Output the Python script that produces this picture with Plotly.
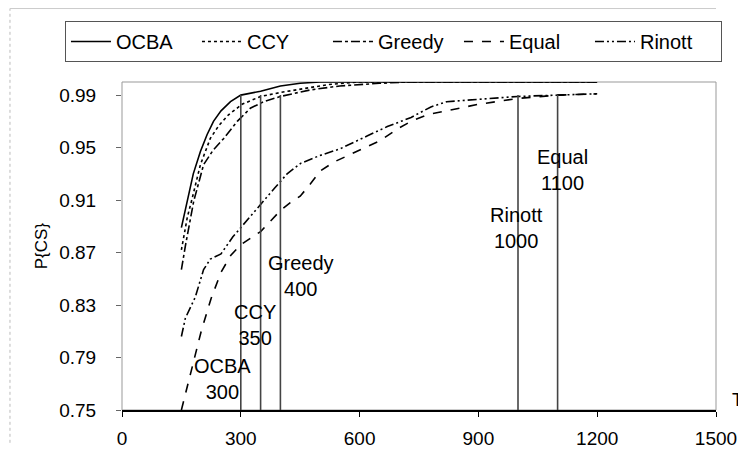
import plotly.graph_objects as go

# ---- data ----
ocba_T = [150, 165, 180, 198, 215, 231, 250, 274, 300, 350, 400, 450, 500, 800, 1200]
ocba_P = [0.889, 0.910, 0.930, 0.947, 0.960, 0.970, 0.978, 0.985, 0.990, 0.993, 0.997, 0.999, 1.0, 1.0, 1.0]

ccy_T = [150, 165, 177, 198, 223, 245, 269, 303, 350, 400, 460, 520, 600, 1200]
ccy_P = [0.872, 0.897, 0.911, 0.937, 0.957, 0.967, 0.975, 0.983, 0.989, 0.992, 0.995, 0.998, 1.0, 1.0]

greedy_T = [150, 160, 181, 206, 230, 257, 291, 324, 358, 400, 476, 550, 650, 720, 1200]
greedy_P = [0.857, 0.875, 0.909, 0.937, 0.948, 0.957, 0.970, 0.980, 0.985, 0.989, 0.994, 0.997, 0.999, 1.0, 1.0]

equal_T = [150, 175, 200, 225, 250, 275, 300, 325, 350, 375, 400, 425, 450, 475, 500, 535, 586, 650, 700, 730, 770, 840, 900, 1000, 1100, 1200]
equal_P = [0.750, 0.780, 0.810, 0.835, 0.855, 0.868, 0.876, 0.881, 0.886, 0.894, 0.902, 0.908, 0.913, 0.922, 0.932, 0.939, 0.946, 0.955, 0.965, 0.970, 0.975, 0.979, 0.983, 0.9875, 0.990, 0.991]

rinott_T = [150, 160, 185, 206, 223, 250, 280, 305, 335, 360, 385, 417, 451, 500, 550, 620, 670, 730, 780, 820, 900, 1000, 1100, 1200]
rinott_P = [0.806, 0.820, 0.836, 0.857, 0.865, 0.869, 0.882, 0.891, 0.901, 0.910, 0.919, 0.930, 0.938, 0.944, 0.949, 0.959, 0.966, 0.973, 0.981, 0.985, 0.987, 0.989, 0.990, 0.991]

mark_T = [300, 350, 400, 1000, 1100]
mark_names = ["OCBA", "CCY", "Greedy", "Rinott", "Equal"]
mark_P_top = 0.99
label_x = [253, 337, 451, 996, 1112]
label_y = [0.7736, 0.815, 0.852, 0.889, 0.933]

y_ticks = [0.75, 0.79, 0.83, 0.87, 0.91, 0.95, 0.99]
x_ticks = [0, 300, 600, 900, 1200, 1500]

FONT = "Liberation Sans, Arial, sans-serif"

fig = go.Figure()

series = [
    ("OCBA", ocba_T, ocba_P, "solid"),
    ("CCY", ccy_T, ccy_P, "dot"),
    ("Greedy", greedy_T, greedy_P, "dashdot"),
    ("Equal", equal_T, equal_P, "dash"),
    ("Rinott", rinott_T, rinott_P, "9px,3px,2px,3px,2px,3px"),
]
for name, t, p, d in series:
    fig.add_trace(go.Scatter(x=t, y=p, mode="lines", name=name,
                             line=dict(color="black", width=1.6, dash=d)))

for t in mark_T:
    fig.add_trace(go.Scatter(x=[t, t], y=[y_ticks[0], mark_P_top], mode="lines",
                             showlegend=False, hoverinfo="skip",
                             line=dict(color="#444", width=1.6)))

for n, t, lx, ly in zip(mark_names, mark_T, label_x, label_y):
    fig.add_annotation(x=lx, y=ly, text=f"{n}<br>{t}", showarrow=False,
                       font=dict(size=20, color="black", family=FONT),
                       align="center")

# y-axis title and x-axis label "T"
fig.add_annotation(xref="paper", yref="paper", x=-0.136, y=0.5, text="P{CS}",
                   textangle=-90, showarrow=False, xanchor="center", yanchor="middle",
                   font=dict(size=17, color="black", family=FONT))
fig.add_annotation(xref="paper", yref="paper", x=1.037, y=0.03, text="T",
                   xanchor="center", yanchor="middle",
                   showarrow=False, font=dict(size=18, color="black", family=FONT))

# plot-area box (gray) and faint outer chart border
fig.add_shape(type="rect", xref="paper", yref="paper", x0=0, y0=0, x1=1, y1=1,
              line=dict(color="#999", width=1), layer="below")
fig.add_shape(type="line", xref="paper", yref="paper", x0=-0.1886, x1=-0.1886, y0=-0.1, y1=1.224,
              line=dict(color="#bbb", width=1, dash="dot"))
fig.add_shape(type="line", xref="paper", yref="paper", x0=-0.1886, x1=1.0, y0=1.224, y1=1.224,
              line=dict(color="#ccc", width=1))

# the page body adds an 8px offset, so the figure is 8px smaller and shifted
fig.update_layout(
    width=738, height=457,
    margin=dict(l=114, r=30, t=74, b=55, autoexpand=False),
    paper_bgcolor="white", plot_bgcolor="white",
    font=dict(family=FONT, color="black", size=18),
    showlegend=True,
    legend=dict(orientation="h", xref="paper", yref="paper",
                x=-0.096, y=1 + 61/328, xanchor="left", yanchor="top",
                bordercolor="#555", borderwidth=1,
                font=dict(size=20, family=FONT, color="black"),
                entrywidth=76, entrywidthmode="pixels",
                itemwidth=40, tracegroupgap=0),
    xaxis=dict(range=[0, 1500], tickvals=x_ticks, showgrid=False, zeroline=False,
               showline=True, linecolor="black", linewidth=1.5,
               ticks="outside", ticklen=5, tickcolor="black",
               ticklabelstandoff=5, tickfont=dict(size=19)),
    yaxis=dict(range=[0.75, 1.0], tickvals=y_ticks, tickformat=".2f",
               showgrid=False, zeroline=False, showline=False,
               ticks="outside", ticklen=5, tickcolor="#666",
               ticklabelstandoff=16, tickfont=dict(size=19)),
)

fig.write_html("out.html")
